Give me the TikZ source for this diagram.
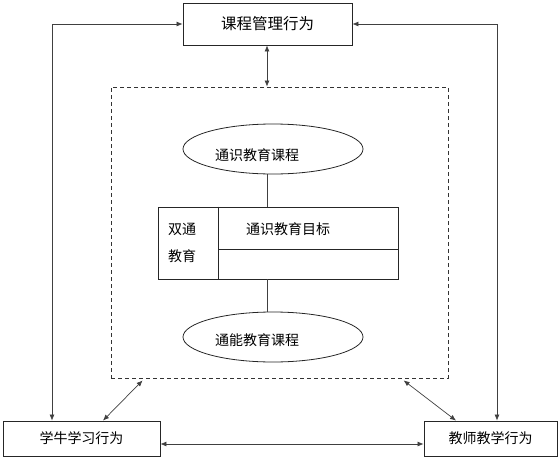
\documentclass[tikz,border=0pt]{standalone}
\usepackage{fontspec}
\setmainfont{Noto Sans CJK SC}
\usetikzlibrary{arrows.meta,shapes.geometric,calc}
\tikzset{
  box/.style={draw=black!85,line width=0.8pt,rectangle,inner sep=0pt,font=\fontsize{14}{16}\selectfont},
  oval/.style={draw=black!85,line width=0.8pt,ellipse,inner sep=0pt,minimum width=180pt,minimum height=50pt},
  txt/.style={inner sep=0pt,font=\fontsize{14}{16}\selectfont},
  link/.style={draw=black!75,line width=0.7pt},
  twoway/.style={link,{Latex[length=6pt,width=5pt]}-{Latex[length=6pt,width=5pt]}},
  frame/.style={draw=black!80,line width=0.8pt,dash pattern=on 4pt off 3pt,rectangle,inner sep=0pt}
}
\begin{document}
\begin{tikzpicture}[x=1pt,y=-1pt]
\useasboundingbox (0,0) rectangle (558,461);
% boxes
\node[box,minimum width=169pt,minimum height=42pt,font=\fontsize{15.5}{18}\selectfont] (top) at (267.5,24) {课程管理行为};
\node[box,minimum width=157pt,minimum height=35pt] (lb) at (81.5,438.5) {学牛学习行为};
\node[box,minimum width=133pt,minimum height=35pt] (rb) at (490.5,438.5) {教师教学行为};
\node[frame,minimum width=337pt,minimum height=291pt] (fr) at (279.5,232.5) {};
% ellipses
\node[oval] (e1) at (273,149) {};
\node[txt] (t1) at (257,155) {通识教育课程};
\node[oval] (e2) at (273,337) {};
\node[txt] (t2) at (257,340) {通能教育课程};
% table
\node[box,minimum width=240pt,minimum height=72pt] (tb) at (278,243) {};
\coordinate (vd) at (218,0);
\coordinate (hd) at (0,249);
\draw[link,black!85,line width=0.8pt] (vd |- tb.north) -- (vd |- tb.south);
\draw[link,black!85,line width=0.8pt] (hd -| vd) -- (hd -| tb.east);
\node[txt] (c1) at (182,229) {双通};
\node[txt] (c2) at (182,256) {教育};
\node[txt] (c3) at (288,229) {通识教育目标};
% plain links
\coordinate (mx) at (267,0);
\draw[link] (mx |- e1.south) -- (mx |- tb.north);
\draw[link] (mx |- tb.south) -- (mx |- e2.north);
% arrows
\coordinate (xl) at (52,0);
\coordinate (xr) at (497,0);
\draw[twoway] (top.west) -| (xl |- lb.north);
\draw[twoway] (top.east) -| (xr |- rb.north);
\draw[twoway] (mx |- top.south) -- (mx |- fr.north);
\coordinate (p1) at ($(fr.south west)+(32,2)$);
\coordinate (p2) at ($(fr.south west)+(293,2)$);
\draw[twoway] (p1) -- (lb.north -| 103,0);
\draw[twoway] (p2) -- (rb.north -| 456,0);
\draw[twoway] (lb.east |- 0,444) -- (rb.west |- 0,444);
\end{tikzpicture}
\end{document}
